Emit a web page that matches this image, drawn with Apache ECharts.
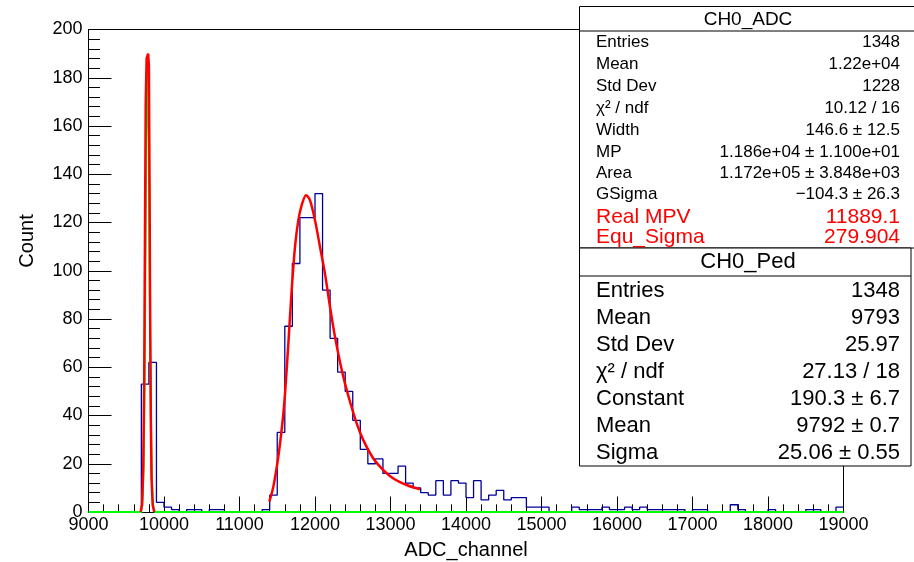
<!DOCTYPE html>
<html><head><meta charset="utf-8">
<script src="https://cdn.jsdelivr.net/npm/echarts@6/dist/echarts.min.js"></script>
<style>html,body{margin:0;padding:0;background:#fff}#c{width:914px;height:562px}</style>
</head><body><div id="c"></div>
<script>
// ---- data ----
const adcBinStart = 9000;
const adcBinWidth = 100;
const adcCounts = [
  0,0,0,0,0,0,0,53,62,4,          // 9000-9900
  2,1,0,1,1,0,1,1,0,0,            // 10000-10900
  0,0,0,1,7,33,77,103,122,122,    // 11000-11900
  132,92,72,58,50,38,26,20,22,16, // 12000-12900
  16,19,12,10,8,7,13,7,13,12,     // 13000-13900
  6,13,5,7,9,5,6,6,2,2,           // 14000-14900
  2,0,0,0,2,1,1,1,2,1,            // 15000-15900
  1,2,1,2,1,1,1,1,1,0,            // 16000-16900
  1,1,0,0,0,3,1,0,0,0,            // 17000-17900
  1,0,0,0,0,1,1,0,0,2             // 18000-18900
];
const pedBinStart = 9700;
const pedBinWidth = 10;
const pedCounts = [1,3,8,20,45,85,130,168,185,168,151,100,62,30,13,5,2,1,0,0];
const pedFitX = [9690,9710,9725,9738,9748,9758,9770,9790,9800,9808,9815,9825,9835,9850,9870];
const pedFitY = [0,3,18,55,115,170,188,190,185,140,90,40,14,3,0];
const landauFitX = [11395,11448,11514,11572,11603,11647,11691,11735,11779,11823,11881,11934,12000,12066,12132,12199,12265,12331,12397,12464,12552,12640,12773,12905,13038,13214,13391];
const landauFitY = [4.3,10.5,22.9,38.1,49.1,69.8,91.9,109.9,120.9,127.1,131.3,129.2,120.9,109.9,98.8,85.0,72.6,62.2,53.3,45.7,36.7,29.8,22.2,17.4,13.9,11.2,9.4];
const xRange = [9000, 19000];
const yRange = [0, 200];

const adcTitle = 'CH0_ADC';
const adcLabels = ['Entries','Mean','Std Dev','χ² / ndf','Width','MP','Area','GSigma'];
const adcValues = ['1348','1.22e+04','1228','10.12 / 16','146.6 ± 12.5','1.186e+04 ± 1.100e+01','1.172e+05 ± 3.848e+03','−104.3 ± 26.3'];
const adcExtraLabels = ['Real MPV','Equ_Sigma'];
const adcExtraValues = ['11889.1','279.904'];
const pedTitle = 'CH0_Ped';
const pedLabels = ['Entries','Mean','Std Dev','χ² / ndf','Constant','Mean','Sigma'];
const pedValues = ['1348','9793','25.97','27.13 / 18','190.3 ± 6.7','9792 ± 0.7','25.06 ± 0.55'];

// ---- build ----
function stepData(start, width, counts, lo, hi) {
  const d = [];
  if (lo !== undefined && lo < start) d.push([lo, 0]);
  counts.forEach((c, i) => d.push([start + i * width, c]));
  const end = start + counts.length * width;
  d.push([end, counts[counts.length - 1]]);
  if (hi !== undefined && hi > end) { d.push([end, 0]); d.push([hi, 0]); }
  return d;
}
const adcData = stepData(adcBinStart, adcBinWidth, adcCounts);
const pedData = stepData(pedBinStart, pedBinWidth, pedCounts, xRange[0], xRange[1]);
const pedFit = pedFitX.map((x, i) => [x, pedFitY[i]]);
const landauFit = landauFitX.map((x, i) => [x, landauFitY[i]]);

const FONT = 'Liberation Sans, Arial, Helvetica, sans-serif';
const graphics = [];
function box(x, y, w, h, sepY) {
  graphics.push({type:'rect', z:100, shape:{x:x, y:y, width:w, height:h}, style:{fill:'#fff', stroke:'#000', lineWidth:1}});
  graphics.push({type:'line', z:101, shape:{x1:x, y1:sepY, x2:x + w, y2:sepY}, style:{stroke:'#000', lineWidth:1}});
}
function txt(x, y, s, size, align, color) {
  graphics.push({type:'text', z:102, x:x, y:y, style:{text:s, font: size + 'px ' + FONT, fill: color || '#000', align: align, verticalAlign:'middle'}});
}
// box 1
box(579.5, 6.5, 340, 241.5, 31);
txt(748, 19.5, adcTitle, 19, 'center');
const adcRowY = [42, 64, 86.5, 108, 130, 152, 173, 194];
adcLabels.forEach((l, i) => { txt(596, adcRowY[i], l, 17, 'left'); txt(900, adcRowY[i], adcValues[i], 17, 'right'); });
const adcExtraY = [217.5, 237];
adcExtraLabels.forEach((l, i) => { txt(596, adcExtraY[i], l, 21, 'left', '#ff0000'); txt(900, adcExtraY[i], adcExtraValues[i], 21, 'right', '#ff0000'); });
// box 2
box(579.5, 248, 331.5, 218, 276);
txt(748, 262, pedTitle, 22, 'center');
const pedRowY = [290.5, 317.5, 345, 371.5, 399, 425.5, 452.5];
pedLabels.forEach((l, i) => { txt(596, pedRowY[i], l, 22, 'left'); txt(900, pedRowY[i], pedValues[i], 22, 'right'); });
// axis titles
graphics.push({type:'text', z:50, x:27, y:241, rotation:Math.PI/2, style:{text:'Count', font:'20px ' + FONT, fill:'#000', align:'center', verticalAlign:'middle'}});
graphics.push({type:'text', z:50, x:466, y:550, style:{text:'ADC_channel', font:'20px ' + FONT, fill:'#000', align:'center', verticalAlign:'middle'}});

const plain = v => String(v);
const TICK = {color: '#000', width: 1};

const chart = echarts.init(document.getElementById('c'), null, {renderer:'canvas'});
chart.setOption({
  animation: false,
  backgroundColor: '#fff',
  grid: {left: 88.5, top: 29.5, right: 70.5, bottom: 50},
  xAxis: [{
    type: 'value', min: xRange[0], max: xRange[1], interval: 1000,
    axisLine: {show: true, onZero: false, lineStyle: {color: '#000', width: 1}},
    axisTick: {show: true, inside: true, length: 15.5, lineStyle: TICK},
    minorTick: {show: true, splitNumber: 5, length: 7.7, lineStyle: TICK},
    splitLine: {show: false},
    axisLabel: {color: '#000', fontSize: 18, fontFamily: FONT, margin: 4, formatter: plain}
  }, {
    type: 'value', position: 'top', min: xRange[0], max: xRange[1],
    axisLine: {show: true, onZero: false, lineStyle: {color: '#000', width: 1}},
    axisTick: {show: false}, minorTick: {show: false}, axisLabel: {show: false}, splitLine: {show: false}
  }],
  yAxis: [{
    type: 'value', min: yRange[0], max: yRange[1], interval: 20,
    axisLine: {show: true, onZero: false, lineStyle: {color: '#000', width: 1}},
    axisTick: {show: true, inside: true, length: 23, lineStyle: TICK},
    minorTick: {show: true, splitNumber: 5, length: 11.5, lineStyle: TICK},
    splitLine: {show: false},
    axisLabel: {color: '#000', fontSize: 18, fontFamily: FONT, margin: 6, formatter: plain}
  }, {
    type: 'value', position: 'right', min: yRange[0], max: yRange[1],
    axisLine: {show: true, onZero: false, lineStyle: {color: '#000', width: 1}},
    axisTick: {show: false}, minorTick: {show: false}, axisLabel: {show: false}, splitLine: {show: false}
  }],
  series: [
    {type: 'line', name: 'CH0_ADC', data: adcData, step: 'end', showSymbol: false, symbol: 'none',
     lineStyle: {color: '#000099', width: 1.3}},
    {type: 'line', name: 'CH0_Ped', data: pedData, step: 'end', showSymbol: false, symbol: 'none',
     lineStyle: {color: '#00ff00', width: 2}},
    {type: 'line', name: 'pedFit', data: pedFit, showSymbol: false, symbol: 'none',
     lineStyle: {color: '#ff0000', width: 2.5}},
    {type: 'line', name: 'landauFit', data: landauFit, smooth: 0.3, showSymbol: false, symbol: 'none',
     lineStyle: {color: '#ff0000', width: 2.5}}
  ],
  graphic: graphics
});
</script>
</body></html>
